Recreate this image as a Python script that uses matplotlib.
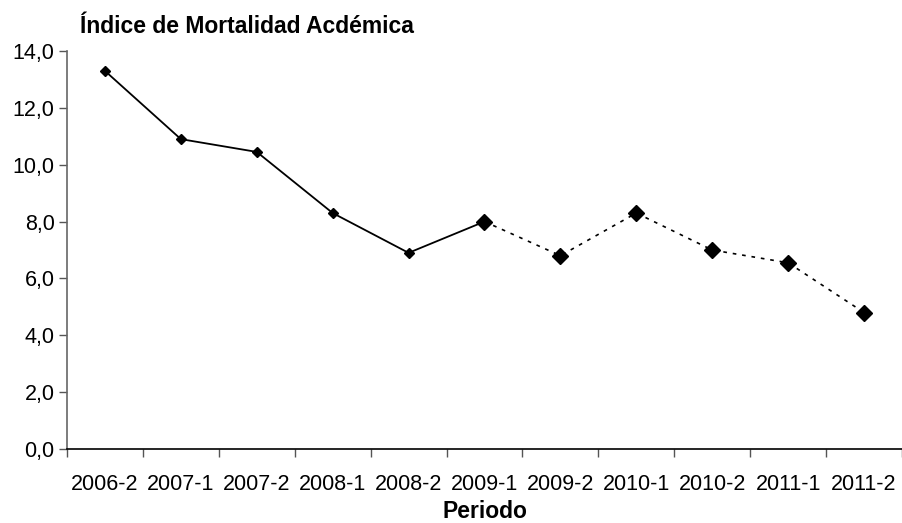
import matplotlib.pyplot as plt
from matplotlib.ticker import FuncFormatter

# ==========================================================================================
# Datos
periodos = ['2006-2', '2007-1', '2007-2', '2008-1', '2008-2', '2009-1',
            '2009-2', '2010-1', '2010-2', '2011-1', '2011-2']
indice = [13.3, 10.9, 10.45, 8.3, 6.9, 8.0, 6.8, 8.3, 7.0, 6.55, 4.8]

# Tramo continuo (hasta 2009-1) y tramo punteado (desde 2009-1)
corte = 5

# ==========================================================================================
plt.rcParams['font.family'] = ['Liberation Sans', 'DejaVu Sans']

fig = plt.figure(figsize=(9.03, 5.23), dpi=100)
ax = fig.add_axes([67/903, 1 - 449/523, 835/903, 398/523])

x = list(range(len(periodos)))
ax.plot(x[:corte + 1], indice[:corte + 1], '-', color='black', lw=1.3,
        marker='D', markersize=5.5)
ax.plot(x[corte:], indice[corte:], color='black', lw=1.2, ls=(0, (2.2, 3.5)),
        marker='D', markersize=8.5)

ax.set_xlim(-0.5, len(periodos) - 0.5)
ax.set_ylim(0, 14)
ax.set_yticks(range(0, 15, 2))
ax.yaxis.set_major_formatter(FuncFormatter(lambda v, p: f'{v:.1f}'.replace('.', ',')))

# Marcas del eje x entre categorías
ax.set_xticks([i - 0.5 for i in range(len(periodos) + 1)])
ax.set_xticklabels([])
ax.set_xticks(x, minor=True)
ax.set_xticklabels(periodos, minor=True)
ax.tick_params(axis='x', which='major', length=6, width=1, color='#555555')
ax.tick_params(axis='x', which='minor', length=0, pad=18, labelsize=15.5)
ax.tick_params(axis='y', length=6, width=1, color='#555555', labelsize=15.5, pad=3)

for s in ['top', 'right']:
    ax.spines[s].set_visible(False)
ax.spines['left'].set_color('#666666')
ax.spines['bottom'].set_color('black')
ax.spines['left'].set_linewidth(1.2)
ax.spines['bottom'].set_linewidth(1.2)

fig.text(80/903, 1 - 33/523, 'Índice de Mortalidad Acdémica', fontsize=16.5,
         fontweight='bold', ha='left', va='baseline')
fig.text(485/903, 1 - 518/523, 'Periodo', fontsize=16.5, fontweight='bold',
         ha='center', va='baseline')

fig.savefig('out.png', dpi=100)
